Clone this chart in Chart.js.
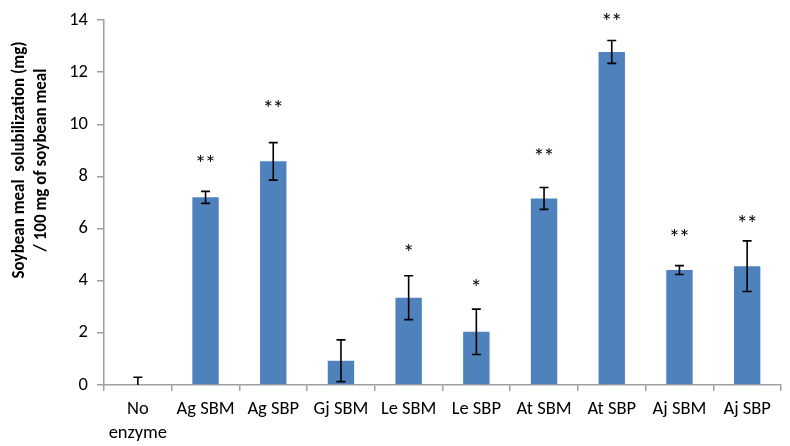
<!DOCTYPE html>
<html><head><meta charset="utf-8">
<script src="https://cdn.jsdelivr.net/npm/chart.js@4"></script>
<style>html,body{margin:0;padding:0;background:#fff}</style>
</head><body>
<canvas id="c" width="790" height="446"></canvas>
<script>
const categories = [["No","enzyme"],"Ag SBM","Ag SBP","Gj SBM","Le SBM","Le SBP","At SBM","At SBP","Aj SBM","Aj SBP"];
const values = [0, 7.2, 8.58, 0.93, 3.35, 2.04, 7.16, 12.78, 4.41, 4.56];
const errors = [0.3, 0.23, 0.72, 0.8, 0.84, 0.87, 0.42, 0.44, 0.17, 0.97];
const significance = ["", "**", "**", "", "*", "*", "**", "**", "**", "**"];
const markLevels = [null, 8.6, 10.7, null, 5.18, 3.82, 8.85, 14.05, 5.75, 6.3];
const yTickValues = [0, 2, 4, 6, 8, 10, 12, 14];
const yTitle = ["Soybean meal  solubilization (mg)", "/ 100 mg of soybean meal"];

const FONT = "Carlito, Lato, sans-serif";
const AXIS = "#a0a0a0";

const errorBars = {
  id: 'errorBars',
  afterDatasetsDraw(chart) {
    const ctx = chart.ctx, y = chart.scales.y, meta = chart.getDatasetMeta(0), a = chart.chartArea;
    ctx.save();
    ctx.beginPath(); ctx.rect(a.left, 0, a.right - a.left, a.bottom); ctx.clip();
    ctx.strokeStyle = '#000'; ctx.lineWidth = 1.6;
    values.forEach((v, i) => {
      const x = meta.data[i].x;
      const t = y.getPixelForValue(v + errors[i]);
      const b = y.getPixelForValue(v - errors[i]);
      ctx.beginPath();
      ctx.moveTo(x, t); ctx.lineTo(x, b);
      ctx.moveTo(x - 4.5, t); ctx.lineTo(x + 4.5, t);
      ctx.moveTo(x - 4.5, b); ctx.lineTo(x + 4.5, b);
      ctx.stroke();
    });
    ctx.restore();
  },
  afterDraw(chart) {
    const ctx = chart.ctx, y = chart.scales.y, meta = chart.getDatasetMeta(0);
    ctx.save();
    ctx.fillStyle = '#000';
    ctx.font = '23px ' + FONT;
    ctx.textAlign = 'center'; ctx.textBaseline = 'middle';
    significance.forEach((s, i) => {
      if (!s) return;
      const x = meta.data[i].x, py = y.getPixelForValue(markLevels[i]);
      if (s.length === 2) {
        ctx.fillText('*', x - 5, py + 4);
        ctx.fillText('*', x + 5, py + 4);
      } else {
        ctx.fillText('*', x, py + 4);
      }
    });
    ctx.font = 'bold 17px ' + FONT;
    ctx.translate(0, 160);
    ctx.rotate(-Math.PI / 2);
    ctx.fillText(yTitle[0], 0, 20);
    ctx.fillText(yTitle[1], 0, 42);
    ctx.restore();
  }
};

new Chart(document.getElementById('c'), {
  type: 'bar',
  data: {
    labels: categories,
    datasets: [{
      data: values,
      backgroundColor: '#4F81BD',
      borderWidth: 0,
      categoryPercentage: 1,
      barPercentage: 0.39
    }]
  },
  options: {
    responsive: false,
    animation: false,
    devicePixelRatio: 1,
    layout: { padding: { top: 15, right: 9, left: 0, bottom: 0 } },
    plugins: { legend: { display: false }, tooltip: { enabled: false } },
    scales: {
      x: {
        grid: { drawOnChartArea: false, drawTicks: true, tickLength: 6, color: AXIS, offset: true, lineWidth: 1.5 },
        border: { color: AXIS, width: 1.5 },
        ticks: { color: '#000', font: { family: FONT, size: 18.5, lineHeight: 1.3 }, padding: 6, maxRotation: 0, autoSkip: false },
        afterFit(s) { s.height = 61; }
      },
      y: {
        min: 0, max: 14,
        afterBuildTicks(s) { s.ticks = yTickValues.map(v => ({ value: v })); },
        grid: { drawOnChartArea: false, drawTicks: true, tickLength: 7, color: AXIS, lineWidth: 1.5 },
        border: { color: AXIS, width: 1.5 },
        ticks: { color: '#000', font: { family: FONT, size: 18.5 }, padding: 9 },
        afterFit(s) { s.width = 104; }
      }
    }
  },
  plugins: [errorBars]
});
</script>
</body></html>
